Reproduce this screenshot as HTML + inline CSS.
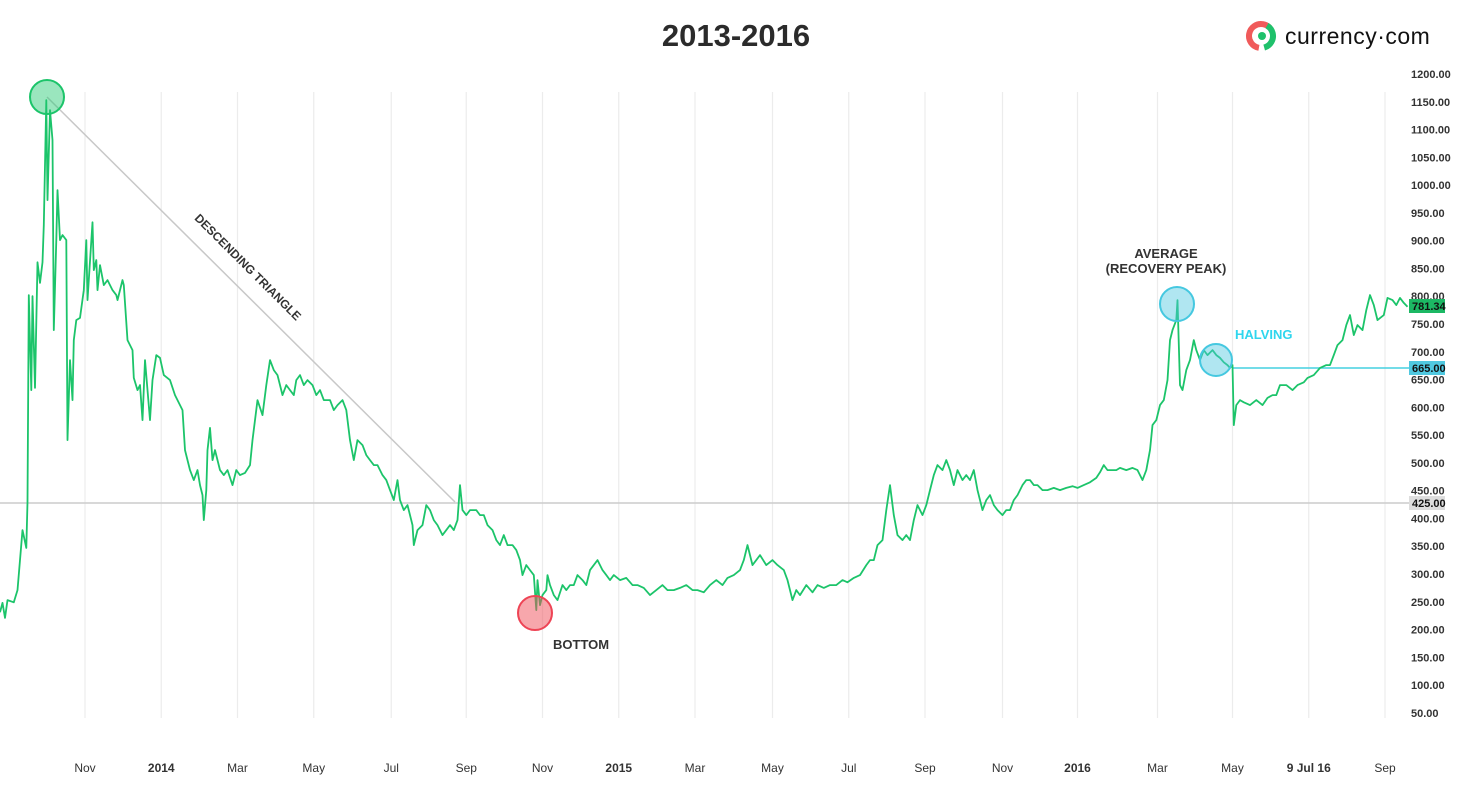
<!DOCTYPE html>
<html><head><meta charset="utf-8"><style>
html,body{margin:0;padding:0;background:#fff;width:1472px;height:794px;overflow:hidden;font-family:"Liberation Sans",sans-serif;}
svg text{font-family:"Liberation Sans","DejaVu Sans",sans-serif;}
</style></head><body>
<svg id="chart" width="1472" height="794" xmlns="http://www.w3.org/2000/svg">
<text x="736" y="46" text-anchor="middle" font-size="31" font-weight="bold" fill="#2b2b2b">2013-2016</text>
<g>
<circle cx="1261" cy="36" r="12" fill="none" stroke="#f05a5a" stroke-width="6" stroke-dasharray="45 40" transform="rotate(100 1261 36)"/>
<circle cx="1261" cy="36" r="12" fill="none" stroke="#1fc16b" stroke-width="6" stroke-dasharray="28 57" transform="rotate(-60 1261 36)"/>
<circle cx="1262" cy="36" r="4" fill="#1fc16b"/>
<text x="1285" y="44" font-size="23" fill="#111" style="letter-spacing:0.5px">currency·com</text>
</g>
<g id="grid"></g>
<g id="yaxis"></g>
<g id="xaxis"></g>
<line x1="0" y1="503" x2="1410" y2="503" stroke="#ccc" stroke-width="1.5"/>
<line x1="47" y1="97" x2="455" y2="502" stroke="#c8c8c8" stroke-width="1.5"/>
<text x="245" y="270" font-size="12" font-weight="bold" fill="#333" text-anchor="middle" transform="rotate(45 245 270)">DESCENDING TRIANGLE</text>
<line x1="1232" y1="368" x2="1410" y2="368" stroke="#45d0e0" stroke-width="1.5"/>
<path id="series" fill="none" stroke="#1cc46a" stroke-width="1.8" stroke-linejoin="round"/>
<circle cx="47" cy="97" r="17" fill="rgba(30,200,110,0.45)" stroke="#1cc46a" stroke-width="2"/>
<circle cx="535" cy="613" r="17" fill="rgba(240,80,90,0.5)" stroke="#ee4455" stroke-width="2"/>
<circle cx="1177" cy="304" r="17" fill="rgba(80,200,225,0.45)" stroke="#45c8e0" stroke-width="2"/>
<circle cx="1216" cy="360" r="16" fill="rgba(80,200,225,0.45)" stroke="#45c8e0" stroke-width="2"/>
<text x="553" y="649" font-size="13" font-weight="bold" fill="#333">BOTTOM</text>
<text x="1166" y="258" font-size="13" font-weight="bold" fill="#333" text-anchor="middle">AVERAGE</text>
<text x="1166" y="273" font-size="13" font-weight="bold" fill="#333" text-anchor="middle">(RECOVERY PEAK)</text>
<text x="1235" y="339" font-size="13" font-weight="bold" fill="#2fd6ee">HALVING</text>
<g><rect x="1409" y="299" width="36" height="14" fill="#1cb864"/><text x="1412" y="310" font-size="11" font-weight="bold" fill="#111">781.34</text></g>
<g><rect x="1409" y="361" width="36" height="14" fill="#50c8e0"/><text x="1412" y="372" font-size="11" font-weight="bold" fill="#111">665.00</text></g>
<g><rect x="1409" y="496" width="36" height="14" fill="#ddd"/><text x="1412" y="507" font-size="11" font-weight="bold" fill="#111">425.00</text></g>
</svg>
<script>
const days=[0,2,4,6,11,14,18,21,22,23,25,26,28,30,32,34,35,37,38,40,42,43,45,46,48,50,53,54,56,58,59,61,64,67,69,70,74,75,77,78,80,83,86,90,93,94,98,99,102,106,107,110,112,114,116,118,120,122,125,128,131,136,140,142,146,148,150,152,155,158,160,162,163,165,166,168,170,172,176,179,182,186,189,192,196,200,202,204,206,210,213,216,219,222,226,229,232,235,237,240,243,246,250,253,256,259,264,267,270,274,277,280,283,286,290,293,296,299,302,306,309,312,315,318,320,323,326,330,331,334,338,341,344,347,350,354,357,360,363,366,368,370,373,376,381,384,387,390,394,397,400,403,406,410,413,416,418,421,424,427,429,430,432,434,437,438,440,443,446,450,453,456,459,462,466,469,472,475,478,482,485,488,491,496,501,506,510,515,520,525,530,534,539,544,549,554,558,563,568,573,578,582,587,592,595,598,602,605,608,613,618,622,627,630,634,637,640,645,650,654,659,664,669,674,678,683,688,693,696,699,702,706,709,712,715,718,722,725,728,731,734,738,741,744,747,750,754,757,760,763,766,770,773,776,779,782,786,789,792,795,798,802,805,808,811,814,818,821,824,827,830,834,838,843,848,853,858,862,867,872,877,880,883,886,890,893,896,901,906,910,914,917,920,922,925,928,931,934,936,938,941,942,944,946,949,952,955,957,960,963,966,970,973,976,979,982,984,986,987,989,992,995,1000,1005,1010,1014,1018,1021,1024,1029,1034,1038,1043,1046,1051,1056,1061,1064,1067,1070,1074,1077,1080,1083,1086,1090,1093,1096,1099,1102,1107,1110,1114,1117,1120,1123,1126];
const prices=[231,248,221,253,249,271,379,347,429,802,631,800,635,861,824,861,928,1153,973,1135,1081,739,901,991,901,910,901,541,685,613,721,757,761,811,901,793,933,847,865,811,856,820,829,811,802,793,829,820,721,703,653,631,640,577,685,631,577,649,694,689,658,649,622,613,595,523,505,487,469,487,460,442,397,451,523,563,505,523,487,478,487,460,487,478,482,496,541,577,613,586,640,685,667,658,622,640,631,622,649,658,640,649,640,622,631,613,613,595,604,613,595,541,505,541,532,514,505,496,496,478,469,451,433,469,433,415,424,388,352,379,388,424,415,397,388,370,379,388,379,397,460,415,406,415,415,406,406,388,379,361,352,370,352,352,343,325,298,316,307,298,235,289,244,262,271,298,280,262,253,280,271,280,280,298,289,280,307,316,325,307,298,289,298,289,293,280,280,275,262,271,280,271,271,275,280,271,271,267,280,289,280,293,298,307,325,352,316,325,334,316,325,316,307,289,253,271,262,280,267,280,275,280,280,289,285,293,298,316,325,325,352,361,415,460,406,370,361,370,361,397,424,406,424,451,478,496,487,505,487,460,487,469,478,469,487,451,415,433,442,424,415,406,415,415,433,442,460,469,469,460,460,451,451,455,451,455,458,455,460,465,473,483,496,487,487,487,491,487,491,487,469,487,523,568,577,604,613,649,721,739,757,793,640,631,667,685,721,703,685,703,694,703,694,689,681,676,671,676,568,604,613,609,604,613,604,617,622,622,640,640,631,640,645,653,658,671,676,676,694,712,721,748,766,730,748,739,775,802,784,757,766,797,793,784,797,788,781];
const yTicks=[1200,1150,1100,1050,1000,950,900,850,800,750,700,650,600,550,500,450,400,350,300,250,200,150,100,50];
const xTickDays=[68,129,190,251,313,373,434,495,556,618,679,740,802,862,926,986,1047,1108];
const xTickLabels=["Nov","2014","Mar","May","Jul","Sep","Nov","2015","Mar","May","Jul","Sep","Nov","2016","Mar","May","9 Jul 16","Sep"];
const xTickBold=[0,1,0,0,0,0,0,1,0,0,0,0,0,1,0,0,1,0];
const NS="http://www.w3.org/2000/svg";
function xs(d){return d*1.25;}
function ys(p){return 74+(1200-p)/1.8;}
const grid=document.getElementById('grid'),xa=document.getElementById('xaxis'),ya=document.getElementById('yaxis');
xTickDays.forEach((d,i)=>{
 const l=document.createElementNS(NS,'line');
 
 
 l.setAttribute('x1',xs(d));l.setAttribute('x2',xs(d));l.setAttribute('y1',92);l.setAttribute('y2',718);
 l.setAttribute('stroke','#ececec');l.setAttribute('stroke-width','1.2');grid.appendChild(l);
 const t=document.createElementNS(NS,'text');
 
 
 t.setAttribute('x',xs(d));t.setAttribute('y',772);t.setAttribute('text-anchor','middle');
 t.setAttribute('font-size','12');t.setAttribute('fill','#333');
 if(xTickBold[i])t.setAttribute('font-weight','bold');
 t.textContent=xTickLabels[i];xa.appendChild(t);
});
yTicks.forEach(v=>{
 const t=document.createElementNS(NS,'text');
 
 
 t.setAttribute('x',1411);t.setAttribute('y',ys(v)+4);t.setAttribute('font-size','11');
 t.setAttribute('font-weight','bold');t.setAttribute('fill','#333');
 t.textContent=v.toFixed(2);ya.appendChild(t);
});
let dstr='';
days.forEach((d,i)=>{dstr+=(i?'L':'M')+xs(d).toFixed(1)+' '+ys(prices[i]).toFixed(1);});
document.getElementById('series').setAttribute('d',dstr);
</script>
</body></html>
